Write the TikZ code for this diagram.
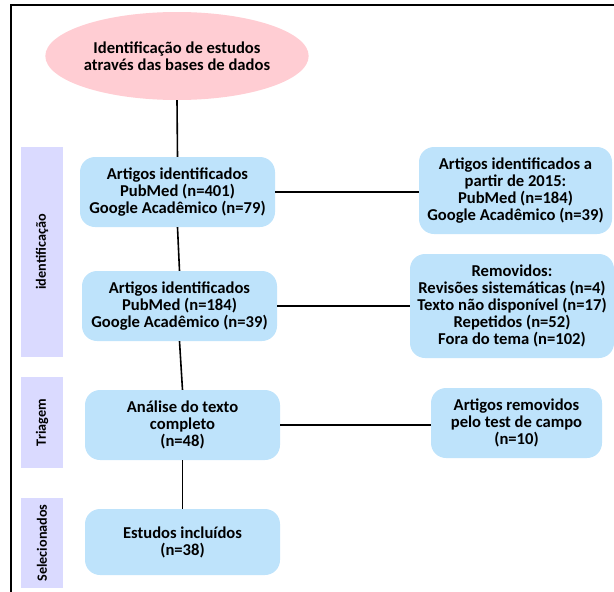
\documentclass[tikz,border=0pt]{standalone}
\usepackage{fontspec}
\setmainfont{Carlito}
\usetikzlibrary{shapes.geometric}
\definecolor{boxblue}{RGB}{190,227,251}
\definecolor{pinkish}{RGB}{255,205,211}
\definecolor{lav}{RGB}{218,218,255}
\tikzset{
  x=1pt,y=-1pt,
  txt/.style={font=\bfseries\fontsize{16.6}{16.9}\selectfont},
  bx/.style={txt,fill=boxblue,draw=none,rounded corners=15pt,align=center,inner sep=0pt},
  side/.style={fill=lav,draw=none,inner sep=0pt},
  sidetxt/.style={rotate=90,font=\bfseries\fontsize{14.2}{15}\selectfont,inner sep=0pt},
  conn/.style={draw=black,line width=1.6pt},
}
\begin{document}
\begin{tikzpicture}
\useasboundingbox (0,0) rectangle (614,592);
\draw[line width=2pt] (11,592) -- (11,5) -- (614,5);
% ellipse
\node[ellipse,txt,fill=pinkish,draw=none,minimum width=242pt,minimum height=88pt,inner sep=0pt,align=center] (e) at (177,56) {Identificação de estudos\\através das bases de dados};
% side labels
\node[side,minimum width=42pt,minimum height=210pt] (s1) at (42,252) {};
\node[sidetxt] (s1t) at (s1.center) {identificação};
\node[side,minimum width=42pt,minimum height=91pt] (s2) at (42,422.5) {};
\node[sidetxt] (s2t) at (s2.center) {Triagem};
\node[side,minimum width=42pt,minimum height=90pt] (s3) at (42,543) {};
\node[sidetxt] (s3t) at (s3.center) {Selecionados};
% boxes
\node[bx,minimum width=195pt,minimum height=70pt] (b1) at (177.5,192) {Artigos identificados\\PubMed (n=401)\\Google Acadêmico (n=79)};
\node[bx,minimum width=195pt,minimum height=70pt] (b2) at (179.5,306) {Artigos identificados\\PubMed (n=184)\\Google Acadêmico (n=39)};
\node[bx,minimum width=195pt,minimum height=70pt] (b3) at (182.5,425) {Análise do texto\\completo\\(n=48)};
\node[bx,minimum width=195pt,minimum height=66pt] (b4) at (182.5,542) {Estudos incluídos\\(n=38)};
\node[bx,minimum width=193pt,minimum height=87pt] (r1) at (515.5,190.5) {Artigos identificados a\\partir de 2015:\\PubMed (n=184)\\Google Acadêmico (n=39)};
\node[bx,minimum width=204pt,minimum height=104pt] (r2) at (512,306) {Removidos:\\Revisões sistemáticas (n=4)\\Texto não disponível (n=17)\\Repetidos (n=52)\\Fora do tema (n=102)};
\node[bx,minimum width=171pt,minimum height=70pt] (r3) at (516.5,423) {Artigos removidos\\pelo test de campo\\(n=10)};
% connectors
\draw[conn] (e.south) -- (b1.north);
\draw[conn] (b1.south) -- (b2.north);
\draw[conn] (b2.south) -- (b3.north);
\draw[conn] (b3.south) -- (b4.north);
\draw[conn] (b1.east) -- (b1.east -| r1.west);
\draw[conn] (b2.east) -- (b2.east -| r2.west);
\draw[conn] (b3.east) -- (b3.east -| r3.west);
\end{tikzpicture}
\end{document}
